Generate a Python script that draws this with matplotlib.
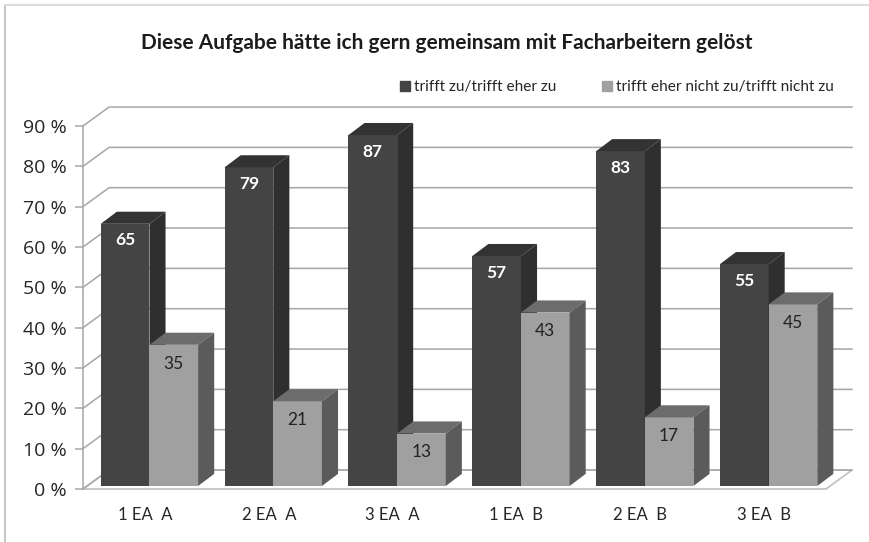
import matplotlib
matplotlib.use('Agg')
import matplotlib.pyplot as plt
from matplotlib.lines import Line2D
from matplotlib.patches import Patch, Polygon

categories = ['1 EA  A', '2 EA  A', '3 EA  A', '1 EA  B', '2 EA  B', '3 EA  B']
agree = [65, 79, 87, 57, 83, 55]
disagree = [35, 21, 13, 43, 17, 45]
agree_label = 'trifft zu/trifft eher zu'
disagree_label = 'trifft eher nicht zu/trifft nicht zu'
y_ticks = [0, 10, 20, 30, 40, 50, 60, 70, 80, 90]

plt.rcParams['font.family'] = ['Lato', 'DejaVu Sans']

W, H = 869, 542
GRID = '#a9a9a9'
WALL_DX, WALL_DY = 0.21, 4.7     # depth of the chart box, in data units
BAR_DX, BAR_DY = 0.13, 3.0       # depth of one bar
SHIFT_X, SHIFT_Y = 0.03, 0.75    # bars stand a little behind the front edge
BAR_W = 0.393


def draw_bar(ax, x, value, front, top, side, z):
    left = x - BAR_W / 2 + SHIFT_X
    right = left + BAR_W
    low = SHIFT_Y
    high = SHIFT_Y + value
    ax.bar(left + BAR_W / 2, value, BAR_W, bottom=low, color=front, zorder=z)
    ax.add_patch(Polygon([(left, high), (right, high), (right + BAR_DX, high + BAR_DY), (left + BAR_DX, high + BAR_DY)],
                         closed=True, facecolor=top, edgecolor='none', zorder=z, clip_on=False))
    ax.add_patch(Polygon([(right, low), (right + BAR_DX, low + BAR_DY), (right + BAR_DX, high + BAR_DY), (right, high)],
                         closed=True, facecolor=side, edgecolor='none', zorder=z, clip_on=False))


fig = plt.figure(figsize=(W / 100, H / 100), dpi=100)
ax = fig.add_axes([83 / W, 1 - 489 / H, (826 - 83) / W, (489 - 126) / H])
ax.set_xlim(-0.5, 5.5)
ax.set_ylim(0, 90)

# back wall gridlines and floor
x0, x1 = -0.5, 5.5
for v in y_ticks[1:]:
    ax.plot([x0, x0 + WALL_DX, x1 + WALL_DX], [v, v + WALL_DY, v + WALL_DY],
            color=GRID, lw=1.15, zorder=1, clip_on=False)
ax.add_patch(Polygon([(x0, 0), (x1, 0), (x1 + WALL_DX, WALL_DY), (x0 + WALL_DX, WALL_DY)], closed=True,
                     facecolor='white', edgecolor='#c4c4c4', lw=1.3, zorder=1, clip_on=False))
ax.plot([x0, x0 + WALL_DX, x1 + WALL_DX], [0, WALL_DY, WALL_DY], color=GRID, lw=1.15, zorder=1, clip_on=False)

for i in range(len(categories)):
    draw_bar(ax, i - 0.19, agree[i], '#444444', '#333333', '#2f2f2f', 3 + 2 * i)
    draw_bar(ax, i + 0.203, disagree[i], '#a0a0a0', '#6c6c6c', '#5b5b5b', 4 + 2 * i)
    ax.text(i - 0.16, agree[i] + SHIFT_Y - 4.1, str(agree[i]), color='white', fontsize=12.5, fontweight='bold',
            ha='center', va='center', zorder=30)
    ax.text(i + 0.233, disagree[i] + SHIFT_Y - 4.7, str(disagree[i]), color='#222222', fontsize=12.5,
            ha='center', va='center', zorder=30)

ax.patch.set_visible(False)
for name in ['top', 'right', 'bottom']:
    ax.spines[name].set_visible(False)
ax.spines['left'].set_color(GRID)
ax.spines['left'].set_linewidth(1.15)

ax.set_yticks(y_ticks)
ax.set_yticklabels([f'{v} %' for v in y_ticks], fontsize=14, color='#262626', family=['Open Sans', 'DejaVu Sans'])
ax.tick_params(axis='y', length=6, width=1.15, color=GRID, pad=5.5)
ax.set_xticks(range(len(categories)))
ax.set_xticklabels(categories, fontsize=12, color='#262626')
ax.tick_params(axis='x', length=0, pad=13)

fig.text(447 / W, 1 - 43 / H, 'Diese Aufgabe hätte ich gern gemeinsam mit Facharbeitern gelöst',
         fontsize=15, fontweight='bold', color='#1c1c1c', ha='center', va='center')

handles = [Patch(color='#444444'), Patch(color='#a0a0a0')]
fig.legend(handles, [agree_label, disagree_label], ncol=2, frameon=False, fontsize=11.1,
           labelcolor='#262626', loc='center left', bbox_to_anchor=(400 / W, 1 - 87 / H), borderaxespad=0, borderpad=0,
           handlelength=0.62, handleheight=0.62, handletextpad=0.3, columnspacing=2.95)

# frame of the screenshot
fig.add_artist(Line2D([4.5 / W, 4.5 / W], [0, 1 - 5 / H], color='#c8c8c8', lw=1.5))
fig.add_artist(Line2D([4.5 / W, 1], [1 - 5 / H, 1 - 5 / H], color='#dcdcdc', lw=1.5))

fig.savefig('out.png', dpi=100)
